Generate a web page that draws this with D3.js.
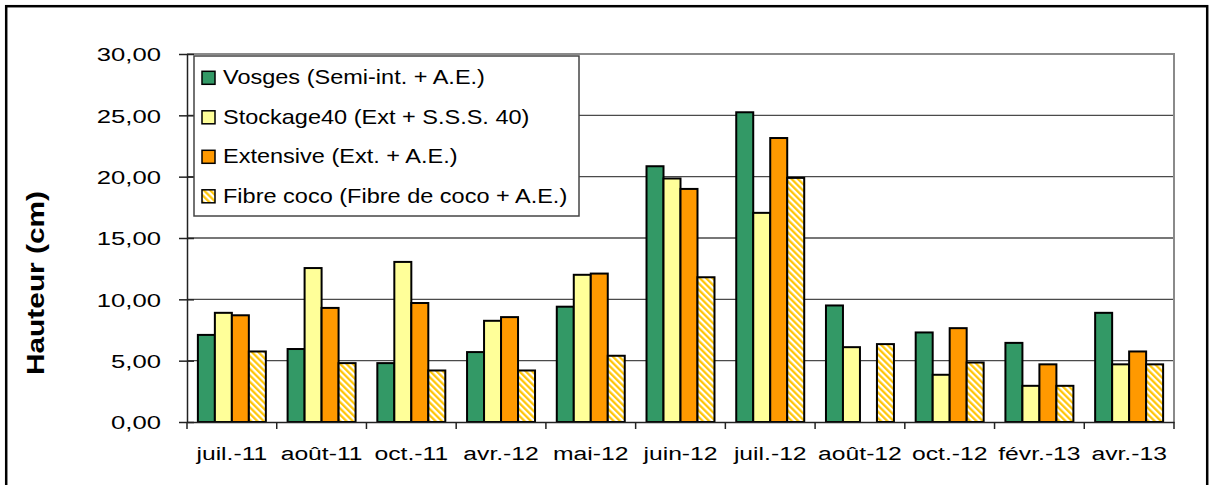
<!DOCTYPE html>
<html>
<head>
<meta charset="utf-8">
<script src="https://cdn.jsdelivr.net/npm/d3@7"></script>
<style>
	body { margin: 0; background: #fff; }
	text { font-family: "Liberation Sans", Arial, sans-serif; }
</style>
</head>
<body>
<div id="chart"></div>
<script>
var categories = ["juil.-11", "août-11", "oct.-11", "avr.-12", "mai-12", "juin-12", "juil.-12", "août-12", "oct.-12", "févr.-13", "avr.-13"];
var seriesNames = ["Vosges (Semi-int. + A.E.)", "Stockage40 (Ext + S.S.S. 40)", "Extensive (Ext. + A.E.)", "Fibre coco (Fibre de coco + A.E.)"];
var vosges = [7.1, 5.95, 4.8, 5.7, 9.4, 20.85, 25.25, 9.5, 7.3, 6.45, 8.9];
var stockage40 = [8.9, 12.55, 13.05, 8.25, 12.0, 19.85, 17.05, 6.1, 3.85, 2.95, 4.7];
var extensive = [8.7, 9.3, 9.7, 8.55, 12.1, 19.0, 23.15, null, 7.65, 4.7, 5.75];
var fibreCoco = [5.75, 4.8, 4.2, 4.2, 5.4, 11.8, 19.9, 6.35, 4.85, 2.95, 4.7];
var yTicks = [0, 5, 10, 15, 20, 25, 30];
var yTitle = "Hauteur (cm)";

var seriesValues = [vosges, stockage40, extensive, fibreCoco];
var fills = ["#339966", "#ffff99", "#ff9900", "url(#hatch)"];

var svg = d3.select("#chart")
  .append("svg")
    .attr("width", 1209)
    .attr("height", 485);

// hatch for the coco fibre series
var pat = svg.append("defs").append("pattern")
    .attr("id", "hatch")
    .attr("patternUnits", "userSpaceOnUse")
    .attr("width", 4.5)
    .attr("height", 4.5)
    .attr("patternTransform", "rotate(-45)");
pat.append("rect").attr("width", 4.5).attr("height", 4.5).attr("fill", "#ffffff");
pat.append("line")
    .attr("x1", 1.2).attr("y1", 0).attr("x2", 1.2).attr("y2", 4.5)
    .style("stroke", "#ffc400")
    .style("stroke-width", 2.2);

// outer frame
svg.append("rect")
    .attr("x", 6.2).attr("y", 6.2)
    .attr("width", 1201).attr("height", 520)
    .style("fill", "none")
    .style("stroke", "#000")
    .style("stroke-width", 2.5);

var x = d3.scaleBand().domain(categories).range([187, 1174]);
var x1 = d3.scaleBand().domain(d3.range(seriesNames.length)).range([0, x.bandwidth()]).paddingOuter(0.64);
var y = d3.scaleLinear().domain([0, 30]).range([422, 54]);

//gridlines
svg.append("g").selectAll("line")
    .data(yTicks.filter(function(d) { return d > 0 && d < 30; }))
  .enter().append("line")
    .attr("x1", x.range()[0]).attr("x2", x.range()[1])
    .attr("y1", function(d) { return y(d); })
    .attr("y2", function(d) { return y(d); })
    .style("stroke", "#4a4a4a")
    .style("stroke-width", 1.4);

// plot area border, top and right
svg.append("path")
    .attr("d", "M" + x.range()[0] + "," + y(30) + "H" + x.range()[1] + "V" + y(0))
    .style("fill", "none")
    .style("stroke", "#8a8a8a")
    .style("stroke-width", 2);

//bars
var groups = svg.append("g").selectAll("g")
    .data(seriesValues)
  .enter().append("g")
    .style("fill", function(d, i) { return fills[i]; });
groups.each(function(vals, s) {
	d3.select(this).selectAll("rect")
	    .data(vals.map(function(v, i) { return {cat: categories[i], v: v}; }).filter(function(d) { return d.v != null; }))
	  .enter().append("rect")
	    .attr("x", function(d) { return x(d.cat) + x1(s); })
	    .attr("y", function(d) { return y(d.v); })
	    .attr("width", x1.bandwidth())
	    .attr("height", function(d) { return y(0) - y(d.v); })
	    .style("stroke", "#000")
	    .style("stroke-width", 2);
});

// y axis
var yAxis = svg.append("g")
    .attr("transform", "translate(" + x.range()[0] + ",0)")
    .call(d3.axisLeft(y).tickValues(yTicks).tickSizeInner(8).tickSizeOuter(0)
        .tickFormat(function(d) { return d.toFixed(2).replace(".", ","); }));
yAxis.select(".domain").style("stroke", "#222").style("stroke-width", 1.5);
yAxis.selectAll(".tick line").attr("x1", 7).style("stroke", "#222").style("stroke-width", 1.5);
yAxis.selectAll(".tick text")
    .attr("x", null).attr("dy", null)
    .attr("transform", "translate(-26,6.7) scale(1.35,1)")
    .style("font-size", "19px")
    .style("fill", "#000");

// x axis
var xAxis = svg.append("g")
    .attr("transform", "translate(0," + y(0) + ")")
    .call(d3.axisBottom(x).tickSize(0).tickSizeOuter(0));
xAxis.select(".domain").style("stroke", "#222").style("stroke-width", 1.5);
xAxis.selectAll(".tick text")
    .attr("y", null).attr("dy", null)
    .attr("transform", "translate(0,38) scale(1.3,1)")
    .style("font-size", "19px")
    .style("fill", "#000");
xAxis.selectAll(".bound")
    .data(categories.map(function(c) { return x(c); }).concat([x.range()[1]]))
  .enter().append("line")
    .attr("class", "bound")
    .attr("x1", function(d) { return d; }).attr("x2", function(d) { return d; })
    .attr("y1", 0).attr("y2", 7)
    .style("stroke", "#222")
    .style("stroke-width", 1.5);

// y title
svg.append("text")
    .attr("transform", "translate(44,283) rotate(-90) scale(1.27,1)")
    .attr("text-anchor", "middle")
    .style("font-size", "23.5px")
    .style("font-weight", "bold")
    .text(yTitle);

//legend
var legend = svg.append("g");
legend.append("rect")
    .attr("x", 194).attr("y", 56)
    .attr("width", 385).attr("height", 160)
    .style("fill", "#fff")
    .style("stroke", "#444")
    .style("stroke-width", 1.5);
var items = legend.selectAll(".item")
    .data(seriesNames)
  .enter().append("g")
    .attr("class", "item")
    .attr("transform", function(d, i) { return "translate(202," + (84.3 + i * 39.5) + ")"; });
items.append("rect")
    .attr("x", 0).attr("y", -13)
    .attr("width", 13).attr("height", 13)
    .style("fill", function(d, i) { return fills[i]; })
    .style("stroke", "#000")
    .style("stroke-width", 1.5);
items.append("text")
    .attr("transform", "translate(21,0) scale(1.12,1)")
    .style("font-size", "21px")
    .style("fill", "#000")
    .text(function(d) { return d; });
</script>
</body>
</html>
